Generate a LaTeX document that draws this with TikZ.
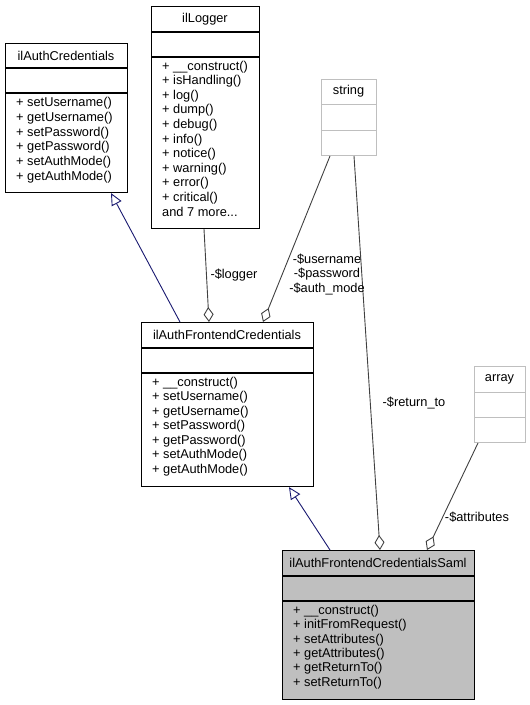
\documentclass[tikz,border=0pt]{standalone}
\usepackage{fontspec}
\setmainfont{Liberation Sans}
\usetikzlibrary{arrows.meta,calc}
\definecolor{edgegray}{HTML}{404040}
\definecolor{boxgray}{HTML}{BFBFBF}
\definecolor{navyline}{HTML}{191970}
\tikzset{
  classbox/.style={draw=black, line width=1.1pt, rectangle, anchor=north west, inner sep=0pt},
  greybox/.style={draw=boxgray, line width=1pt, rectangle, anchor=north west, inner sep=0pt},
  txt/.style={font=\fontsize{12.8}{14.6}\selectfont, inner sep=0pt},
  inherit/.style={draw=navyline, line width=0.9pt, -{Triangle[open, length=12pt, width=11pt]}},
  aggr/.style={draw=edgegray, line width=0.9pt, -{Diamond[open, length=15pt, width=10pt]}},
}
\begin{document}
\begin{tikzpicture}[x=1pt, y=-1pt]
\useasboundingbox (0,0) rectangle (530,705);

% ilAuthCredentials
\node[classbox, minimum width=122pt, minimum height=149pt] (cred) at (5,43) {};
\draw[line width=1.1pt] (5,68) -- (127,68) (5,93) -- (127,93);
\node[txt] (cred-t) at (66,55.5) {ilAuthCredentials};
\foreach \t [count=\i] in {setUsername(),getUsername(),setPassword(),getPassword(),setAuthMode(),getAuthMode()}
  \node[txt, anchor=mid west] (cred-m\i) at (16,{104+(\i-1)*14.7}) {+ \t};

% ilLogger
\node[classbox, minimum width=108pt, minimum height=222pt] (logger) at (151,6) {};
\draw[line width=1.1pt] (151,32) -- (259,32) (151,57) -- (259,57);
\node[txt] (logger-t) at (205,19) {ilLogger};
\foreach \t [count=\i] in {\_\_construct(),isHandling(),log(),dump(),debug(),info(),notice(),warning(),error(),critical()}
  \node[txt, anchor=mid west] (logger-m\i) at (162,{67.5+(\i-1)*14.6}) {+ \t};
\node[txt, anchor=mid west] (logger-more) at (162,213.5) {and 7 more...};

% string
\node[greybox, minimum width=55pt, minimum height=76pt] (string) at (321,79) {};
\draw[draw=boxgray, line width=1pt] (321,104) -- (376,104) (321,130) -- (376,130);
\node[txt] (string-t) at (348.5,91.5) {string};

% ilAuthFrontendCredentials
\node[classbox, minimum width=172pt, minimum height=164pt] (front) at (141,322) {};
\draw[line width=1.1pt] (141,348) -- (313,348) (141,373) -- (313,373);
\node[txt] (front-t) at (227,335) {ilAuthFrontendCredentials};
\foreach \t [count=\i] in {\_\_construct(),setUsername(),getUsername(),setPassword(),getPassword(),setAuthMode(),getAuthMode()}
  \node[txt, anchor=mid west] (front-m\i) at (152,{383.5+(\i-1)*14.5}) {+ \t};

% array
\node[greybox, minimum width=51pt, minimum height=76pt] (array) at (474,366) {};
\draw[draw=boxgray, line width=1pt] (474,392) -- (525,392) (474,417) -- (525,417);
\node[txt] (array-t) at (499.5,379) {array};

% ilAuthFrontendCredentialsSaml
\node[classbox, fill=boxgray, minimum width=192pt, minimum height=149pt] (saml) at (282,550) {};
\draw[line width=1.1pt] (282,576) -- (474,576) (282,601) -- (474,601);
\node[txt] (saml-t) at (378,563) {ilAuthFrontendCredentialsSaml};
\foreach \t [count=\i] in {\_\_construct(),initFromRequest(),setAttributes(),getAttributes(),getReturnTo(),setReturnTo()}
  \node[txt, anchor=mid west] (saml-m\i) at (293,{612+(\i-1)*14.3}) {+ \t};

% inheritance
\draw[inherit] ($(front.north west)+(39,0)$) -- ($(cred.south west)+(106,0)$);
\draw[inherit] ($(saml.north west)+(48,0)$) -- ($(front.south west)+(148,0)$);

% aggregation
\draw[aggr] ($(logger.south west)+(53,0)$) -- ($(front.north west)+(68,0)$);
\draw[aggr] ($(string.south west)+(9,0)$) -- ($(front.north west)+(122,0)$);
\draw[aggr] ($(string.south west)+(33,0)$) -- ($(saml.north west)+(98,0)$);
\draw[aggr] ($(array.south west)+(4,0)$) -- ($(saml.north west)+(145,0)$);

% labels
\node[txt] (l-logger) at (234,275) {-\$logger};
\node[txt, align=center] (l-string) at (327,274.5) {-\$username\\-\$password\\-\$auth\_mode};
\node[txt] (l-return) at (414,403) {-\$return\_to};
\node[txt] (l-attr) at (477,517) {-\$attributes};
\end{tikzpicture}
\end{document}
